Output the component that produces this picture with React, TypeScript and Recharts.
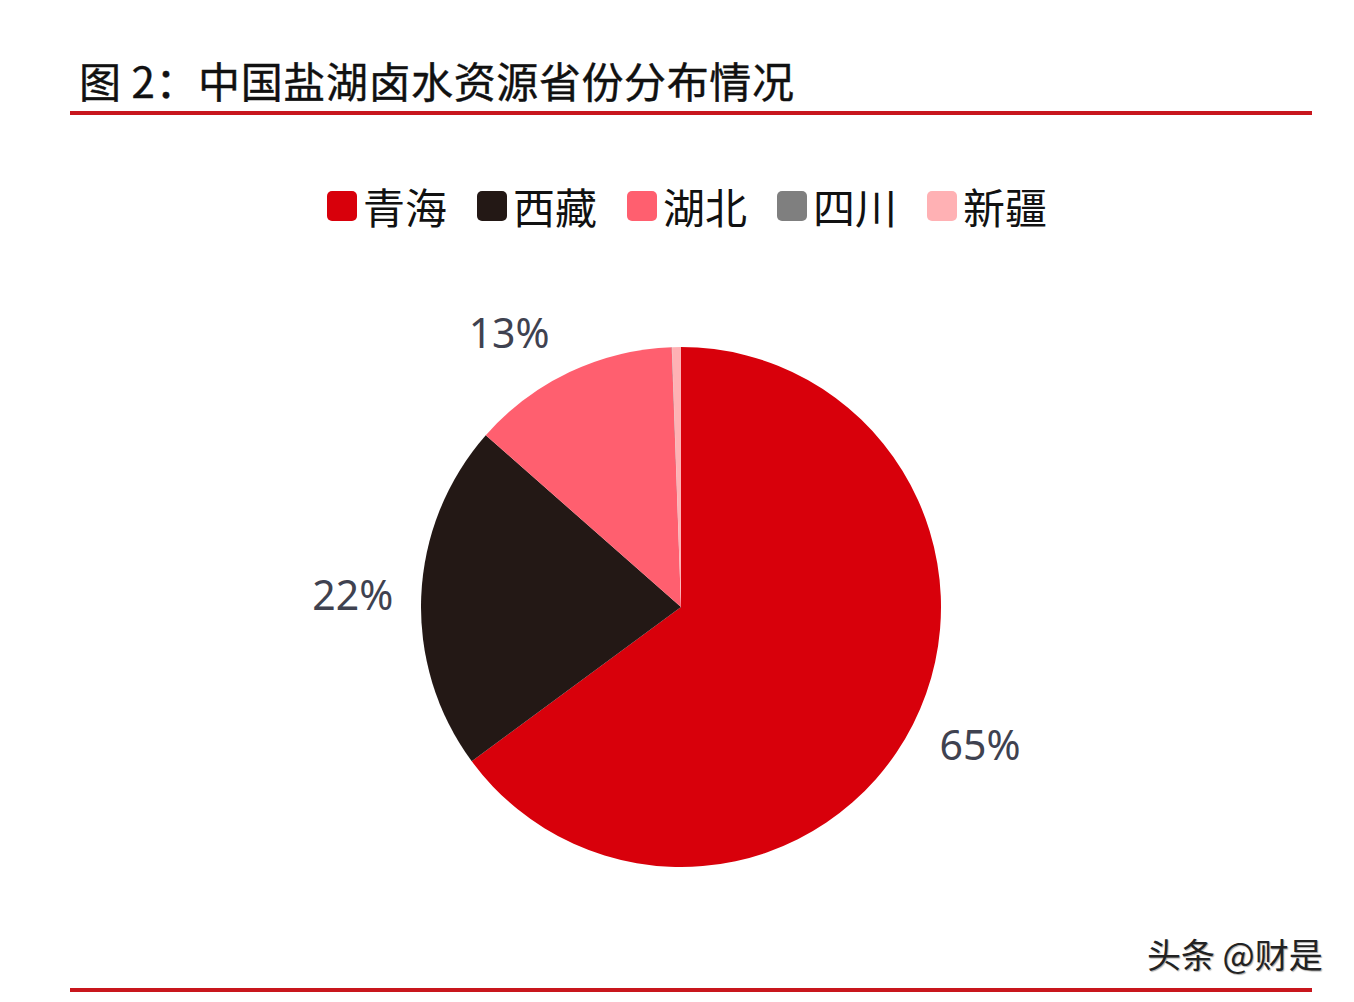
import React from "react"
import { PieChart, Pie, Cell, Legend } from "recharts"

const provinces = ["青海", "西藏", "湖北", "四川", "新疆"]
const shares = [64.9, 21.6, 12.95, 0.02, 0.55]
const colors = ["#D8000B", "#231815", "#FF5F6F", "#7F7F7F", "#FFB1B4"]

const data = provinces.map((name, i) => ({ name, value: shares[i] }))

const RADIAN = Math.PI / 180

function renderLabel(props: any) {
  const { cx, cy, midAngle, outerRadius, percent } = props
  if (percent < 0.01) return null
  const c = Math.cos(-midAngle * RADIAN)
  const s = Math.sin(-midAngle * RADIAN)
  const r = outerRadius + 14
  const px = cx + r * c
  const py = cy + r * s
  const anchor = c > 0.1 ? "start" : c < -0.1 ? "end" : "middle"
  const x = px + (c > 0.1 ? 14 : c < -0.1 ? -14 : 0)
  const y = py + s * 30
  return (
    <text
      x={x}
      y={y}
      textAnchor={anchor}
      dominantBaseline="central"
      fill="#3F4250"
      fontSize={41}
      fontFamily="'Noto Sans', 'Liberation Sans', sans-serif"
    >
      {Math.round(percent * 100)}%
    </text>
  )
}

function LegendContent() {
  return (
    <div style={{ display: "flex", justifyContent: "center", alignItems: "center", gap: 30, paddingLeft: 20 }}>
      {provinces.map((p, i) => (
        <div key={p} style={{ display: "flex", alignItems: "center" }}>
          <div style={{ width: 30, height: 30, borderRadius: 5, background: colors[i], marginRight: 6 }} />
          <span style={{ fontSize: 42, lineHeight: 1, color: "#111" }}>{p}</span>
        </div>
      ))}
    </div>
  )
}

export default function App() {
  return (
    <div
      style={{
        position: "absolute",
        left: 0,
        top: 0,
        width: 1354,
        height: 1002,
        background: "#fff",
        overflow: "hidden",
        fontFamily: "'Noto Sans CJK SC', sans-serif",
      }}
    >
      <div
        style={{
          position: "absolute",
          left: 79,
          top: 55,
          fontSize: 42,
          letterSpacing: 0.6,
          lineHeight: "50px",
          color: "#111",
          whiteSpace: "nowrap",
          WebkitTextStroke: "0.4px #111",
        }}
      >
        图&nbsp;2：中国盐湖卤水资源省份分布情况
      </div>
      <div style={{ position: "absolute", left: 70, top: 111, width: 1242, height: 4, background: "#C8161D" }} />
      <PieChart
        width={1354}
        height={1002}
        margin={{ top: 0, right: 0, bottom: 0, left: 0 }}
        style={{ position: "absolute", left: 0, top: 0 }}
      >
        <Legend
          content={<LegendContent />}
          wrapperStyle={{ position: "absolute", top: 185, left: 0, width: 1354 }}
        />
        <Pie
          data={data}
          dataKey="value"
          nameKey="name"
          cx={681}
          cy={607}
          outerRadius={260}
          startAngle={90}
          endAngle={-270}
          stroke="none"
          label={renderLabel}
          labelLine={false}
          isAnimationActive={false}
        >
          {data.map((d, i) => (
            <Cell key={d.name} fill={colors[i]} />
          ))}
        </Pie>
      </PieChart>
      <div
        style={{
          position: "absolute",
          left: 1147,
          top: 932,
          fontSize: 34,
          lineHeight: "44px",
          color: "#222",
          whiteSpace: "nowrap",
          textShadow: "1px 1px 1px #aaa",
        }}
      >
        头条 @财是
      </div>
      <div style={{ position: "absolute", left: 70, top: 988, width: 1242, height: 4, background: "#C8161D" }} />
    </div>
  )
}
